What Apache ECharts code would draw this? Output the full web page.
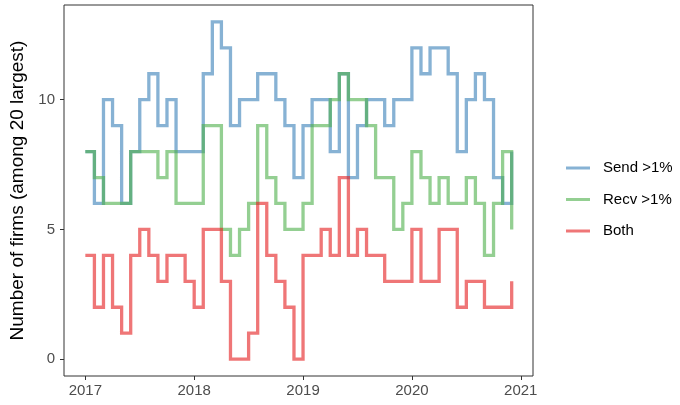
<!DOCTYPE html>
<html>
<head>
<meta charset="utf-8">
<script src="https://cdn.jsdelivr.net/npm/echarts@6/dist/echarts.min.js"></script>
<style>html,body{margin:0;padding:0;background:#fff}#c{width:680px;height:405px}</style>
</head>
<body>
<div id="c"></div>
<script>
const months = [
 "2017-01","2017-02","2017-03","2017-04","2017-05","2017-06","2017-07","2017-08","2017-09","2017-10","2017-11","2017-12",
 "2018-01","2018-02","2018-03","2018-04","2018-05","2018-06","2018-07","2018-08","2018-09","2018-10","2018-11","2018-12",
 "2019-01","2019-02","2019-03","2019-04","2019-05","2019-06","2019-07","2019-08","2019-09","2019-10","2019-11","2019-12",
 "2020-01","2020-02","2020-03","2020-04","2020-05","2020-06","2020-07","2020-08","2020-09","2020-10","2020-11","2020-12"
];
const sendVals = [8,6,10,9,6,8,10,11,9,10,8,8, 8,11,13,12,9,10,10,11,11,10,9,7, 9,10,10,8,11,7,9,10,10,9,10,10, 12,11,12,12,11,8,10,11,10,7,6,8];
const recvVals = [8,7,6,6,6,8,8,8,7,8,6,6, 6,9,9,5,4,5,6,9,7,6,5,5, 6,9,9,10,11,10,10,9,7,7,5,6, 8,7,6,7,6,6,7,6,4,6,8,5];
const bothVals = [4,2,4,2,1,4,5,4,3,4,4,3, 2,5,5,3,0,0,1,6,4,3,2,0, 4,4,5,4,7,4,5,4,4,3,3,3, 5,3,3,5,5,2,3,3,2,2,2,3];
const seriesNames = ["Send >1%","Recv >1%","Both"];
const xTicks = [2017,2018,2019,2020,2021];
const yTicks = [0,5,10];

function toYear(m){ const p=m.split("-"); return +p[0] + (+p[1]-1)/12; }
function pts(vals){ return months.map((m,i)=>[toYear(m), vals[i]]); }

const colors = ["rgba(55,126,184,0.6)","rgba(77,175,74,0.6)","rgba(228,26,28,0.6)"];
const font = "Liberation Sans, Arial, sans-serif";

const chart = echarts.init(document.getElementById('c'), null, {renderer:'canvas'});
const mk = (name, vals, col) => ({
  name, type:'line', step:'end', data: pts(vals), showSymbol:false, symbol:'none',
  lineStyle:{color:col, width:3.3, cap:'butt', join:'miter'}, itemStyle:{color:col},
  emphasis:{disabled:true}, animation:false
});
chart.setOption({
  animation:false,
  grid:{left:64, right:147, top:5, bottom:29, show:true, borderColor:'#333', borderWidth:1, backgroundColor:'transparent'},
  xAxis:{type:'value', min:2016.804, max:2021.1125,
    axisLine:{show:false, onZero:false}, splitLine:{show:false},
    axisTick:{show:true, length:4, lineStyle:{color:'#333'}, customValues:xTicks},
    axisLabel:{color:'#4d4d4d', fontSize:15, fontFamily:font, margin:7, customValues:xTicks, formatter:v=>String(Math.round(v))}
  },
  yAxis:{type:'value', min:-0.65, max:13.65,
    axisLine:{show:false, onZero:false}, splitLine:{show:false},
    axisTick:{show:true, length:4, lineStyle:{color:'#333'}, customValues:yTicks},
    axisLabel:{color:'#4d4d4d', fontSize:15, fontFamily:font, margin:9, customValues:yTicks},
    name:'Number of firms (among 20 largest)', nameLocation:'middle', nameGap:30,
    nameTextStyle:{color:'#000', fontSize:19, fontFamily:font}
  },
  legend:{orient:'vertical', left:566, top:159, padding:0, itemWidth:24, itemHeight:3, itemGap:13.5, icon:'rect',
    textStyle:{fontSize:15, fontFamily:font, color:'#000', lineHeight:18, padding:[0,0,0,8]},
    data:seriesNames.map((n,i)=>({name:n, itemStyle:{color:colors[i]}}))
  },
  series:[mk(seriesNames[0], sendVals, colors[0]), mk(seriesNames[1], recvVals, colors[1]), mk(seriesNames[2], bothVals, colors[2])]
});
</script>
</body>
</html>
